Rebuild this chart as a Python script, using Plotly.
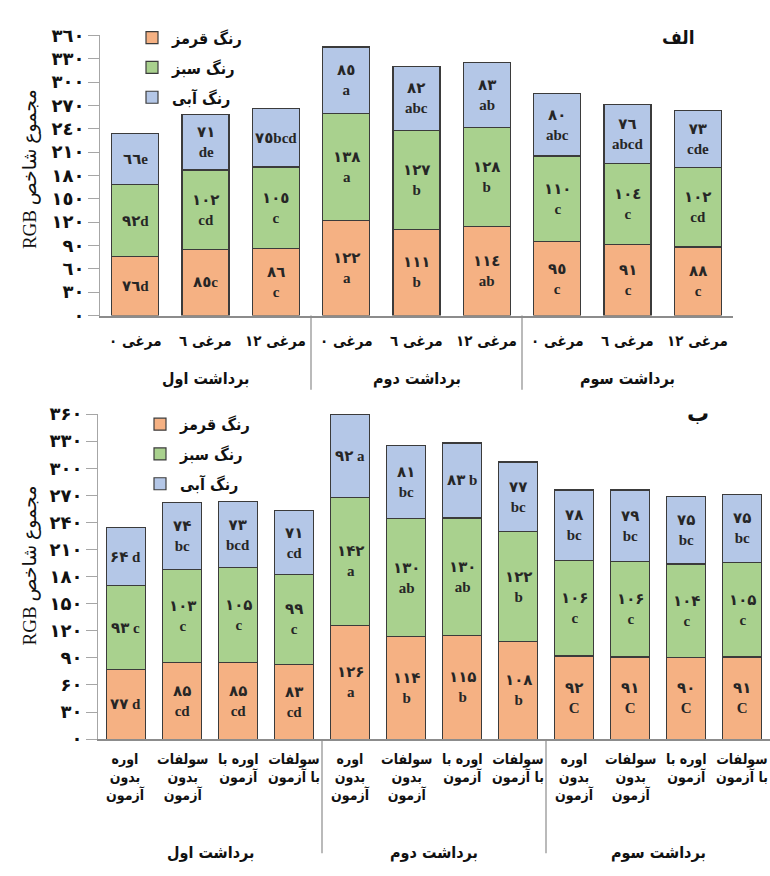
import plotly.graph_objects as go

# ---- data: upper panel (الف) ----
top_cats = ["مرغی ٠", "مرغی ٦", "مرغی ١٢"] * 3
top_red = [76, 85, 86, 122, 111, 114, 95, 91, 88]
top_green = [92, 102, 105, 138, 127, 128, 110, 104, 102]
top_blue = [66, 71, 75, 85, 82, 83, 80, 76, 73]
top_red_sig = ["d", "c", "c", "a", "b", "ab", "c", "c", "c"]
top_green_sig = ["d", "cd", "c", "a", "b", "b", "c", "c", "cd"]
top_blue_sig = ["e", "de", "bcd", "a", "abc", "ab", "abc", "abcd", "cde"]

# ---- data: lower panel (ب) ----
bot_cats = ["اوره<br>بدون<br>آزمون", "سولفات<br>بدون<br>آزمون",
            "اوره با<br>آزمون", "سولفات<br>با آزمون"] * 3
bot_red = [77, 85, 85, 83, 126, 114, 115, 108, 92, 91, 90, 91]
bot_green = [93, 103, 105, 99, 142, 130, 130, 122, 106, 106, 104, 105]
bot_blue = [64, 74, 73, 71, 92, 81, 83, 77, 78, 79, 75, 75]
bot_red_sig = ["d", "cd", "cd", "cd", "a", "b", "b", "b", "C", "C", "C", "C"]
bot_green_sig = ["c", "c", "c", "c", "a", "ab", "ab", "b", "c", "c", "c", "c"]
bot_blue_sig = ["d", "bc", "bcd", "cd", "a", "bc", "b", "bc", "bc", "bc", "bc", "bc"]

groups = ["برداشت اول", "برداشت دوم", "برداشت سوم"]
series_names = ["رنگ قرمز", "رنگ سبز", "رنگ آبی"]
y_ticks = [0, 30, 60, 90, 120, 150, 180, 210, 240, 270, 300, 330, 360]

COLORS = ["#F5B183", "#A9D18E", "#B4C7E7"]
EDGE = "#3b3b3b"
FA = "DejaVu Sans Condensed, DejaVu Sans"
SER = "Liberation Serif, DejaVu Sans"

ARABIC = str.maketrans("0123456789", "٠١٢٣٤٥٦٧٨٩")
PERSIAN = str.maketrans("0123456789", "۰۱۲۳۴۵۶۷۸۹")

# labels written on one line (panel, series index, bar index)
INLINE = {("top", 0, 0), ("top", 1, 0), ("top", 2, 0), ("top", 0, 1), ("top", 2, 2),
          ("bot", 0, 0), ("bot", 1, 0), ("bot", 2, 0), ("bot", 2, 4), ("bot", 2, 6)}

W, H = 770, 876


def py(pix):
    return 1 - pix / H


def note(**kw):
    kw.setdefault("xanchor", "center")
    kw.setdefault("yanchor", "middle")
    kw.setdefault("showarrow", False)
    return kw


fig = go.Figure()

panels = [
    dict(key="top", xa="x", ya="y", legend="legend", n=9,
         vals=[top_red, top_green, top_blue],
         sigs=[top_red_sig, top_green_sig, top_blue_sig],
         digits=ARABIC, space=""),
    dict(key="bot", xa="x2", ya="y2", legend="legend2", n=12,
         vals=[bot_red, bot_green, bot_blue],
         sigs=[bot_red_sig, bot_green_sig, bot_blue_sig],
         digits=PERSIAN, space=" "),
]

annotations = []
for p in panels:
    xs = list(range(p["n"]))
    base = [0] * p["n"]
    for si, (vals, sigs) in enumerate(zip(p["vals"], p["sigs"])):
        fig.add_trace(go.Bar(
            x=xs, y=vals, name=series_names[si],
            xaxis=p["xa"], yaxis=p["ya"], legend=p["legend"],
            legendgroup=f"{p['key']}{si}",
            marker=dict(color=COLORS[si], line=dict(color=EDGE, width=1.2)),
            hoverinfo="skip",
        ))
        for i, v in enumerate(vals):
            num = str(v).translate(p["digits"])
            if (p["key"], si, i) in INLINE:
                txt = f"{num}{p['space']}{sigs[i]}"
            else:
                txt = f"{num}<br>{sigs[i]}"
            annotations.append(note(
                x=i, y=base[i] + v / 2, xref=p["xa"], yref=p["ya"],
                text=f"<b>{txt}</b>",
                font=dict(family=SER, size=15, color="#262626"),
            ))
            base[i] += v

# category labels, group labels, separators
for i, c in enumerate(top_cats):
    annotations.append(note(x=i, y=py(338), xref="x", yref="paper", text=f"<b>{c}</b>",
                            font=dict(family=FA, size=15, color="#111")))
for i, c in enumerate(bot_cats):
    annotations.append(note(x=i, y=py(756), xref="x2", yref="paper", yanchor="top",
                            text=f"<b>{c}</b>",
                            font=dict(family=FA, size=14, color="#111")))
for g, name in enumerate(groups):
    annotations.append(note(x=g * 3 + 1, y=py(377), xref="x", yref="paper",
                            text=f"<b>{name}</b>",
                            font=dict(family=FA, size=16, color="#111")))
    annotations.append(note(x=g * 4 + 1.5, y=py(862), xref="x2", yref="paper",
                            text=f"<b>{name}</b>",
                            font=dict(family=FA, size=16, color="#111")))

shapes = []
for b in (2.5, 5.5):
    shapes.append(dict(type="line", xref="x", yref="paper", x0=b, x1=b,
                       y0=py(312), y1=py(388), line=dict(color="#8c8c8c", width=1.2)))
for b in (3.5, 7.5):
    shapes.append(dict(type="line", xref="x2", yref="paper", x0=b, x1=b,
                       y0=py(746), y1=py(863), line=dict(color="#8c8c8c", width=1.2)))

# panel titles and axis titles
annotations += [
    note(x=678 / W, y=py(27), xref="paper", yref="paper", text="<b>الف</b>",
         font=dict(family=FA, size=19, color="#111")),
    note(x=698 / W, y=py(412), xref="paper", yref="paper", text="<b>ب</b>",
         font=dict(family="DejaVu Sans", size=22, color="#111")),
    note(x=30 / W, y=py(162), xref="paper", yref="paper", textangle=-90,
         text="\u202bمجموع شاخص RGB\u202c",
         font=dict(family=SER, size=19, color="#111")),
    note(x=30 / W, y=py(568), xref="paper", yref="paper", textangle=-90,
         text="\u202bمجموع شاخص RGB\u202c",
         font=dict(family=SER, size=19, color="#111")),
]

yax_common = dict(
    range=[0, 360], tickvals=y_ticks, showgrid=False, zeroline=False,
    showline=True, linecolor="#a6a6a6", linewidth=1,
    ticks="outside", ticklen=11, tickcolor="#a6a6a6",
    tickfont=dict(family="DejaVu Sans", size=18, color="#111", weight="bold"),
)
xax_common = dict(showgrid=False, zeroline=False, showline=True, linecolor="#8c8c8c",
                  linewidth=1.5, showticklabels=False, ticks="", fixedrange=True)

legend_common = dict(xanchor="left", yanchor="top", bgcolor="rgba(0,0,0,0)",
                     traceorder="grouped", tracegroupgap=6, itemclick=False,
                     itemwidth=30,
                     font=dict(family=FA, size=16, color="#111", weight="bold"))

fig.update_layout(
    width=W, height=H, margin=dict(l=0, r=0, t=0, b=0),
    paper_bgcolor="white", plot_bgcolor="white",
    barmode="stack",
    xaxis=dict(domain=[100 / W, 733 / W], range=[-0.5, 8.5], anchor="y", **xax_common),
    yaxis=dict(domain=[py(312), py(25)], anchor="x",
               ticktext=[str(t).translate(ARABIC) for t in y_ticks], **yax_common),
    xaxis2=dict(domain=[98 / W, 1.0], range=[-0.5, 11.5], anchor="y2", **xax_common),
    yaxis2=dict(domain=[py(746), py(413)], anchor="x2",
                ticktext=[str(t).translate(PERSIAN) for t in y_ticks], **yax_common),
    legend=dict(x=132 / W, y=py(10), **legend_common),
    legend2=dict(x=140 / W, y=py(406), **legend_common),
    annotations=annotations, shapes=shapes, showlegend=True,
)
fig.update_traces(width=0.67, selector=dict(xaxis="x"))
fig.update_traces(width=0.705, selector=dict(xaxis="x2"))

fig.write_html("out.html")
